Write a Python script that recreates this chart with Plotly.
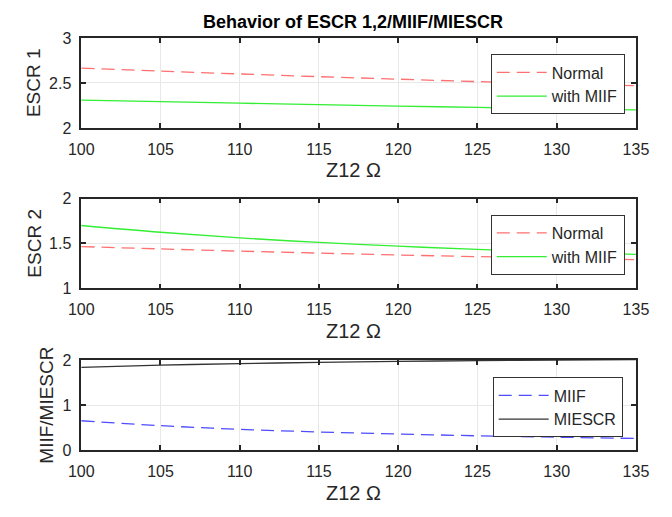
import plotly.graph_objects as go

z12 = [100, 105, 110, 115, 120, 125, 130, 135]

escr1_normal = [2.665, 2.632, 2.600, 2.570, 2.542, 2.515, 2.490, 2.470]
escr1_miif = [2.310, 2.292, 2.275, 2.258, 2.243, 2.228, 2.212, 2.200]

escr2_normal = [1.465, 1.440, 1.415, 1.393, 1.372, 1.354, 1.336, 1.320]
escr2_miif = [1.700, 1.625, 1.562, 1.512, 1.470, 1.434, 1.403, 1.380]

miif = [0.65, 0.54, 0.46, 0.40, 0.355, 0.315, 0.285, 0.255]
miescr = [1.835, 1.885, 1.920, 1.948, 1.970, 1.985, 1.998, 2.008]

x_ticks = [100, 105, 110, 115, 120, 125, 130, 135]

FONT = "Arial, Liberation Sans, sans-serif"
W, H = 672, 517
xdom = [71 / W, 648 / W]
panels = [  # (top px, bottom px)
    (31, 124),
    (197, 290),
    (364, 457),
]
DASH = "13px,7px"

fig = go.Figure()

def add(series, xaxis, yaxis, name, color, dash, legend):
    fig.add_trace(go.Scatter(
        x=z12, y=series, mode="lines", name=name, xaxis=xaxis, yaxis=yaxis,
        line=dict(color=color, width=1.3, dash=dash), legend=legend,
        line_shape="spline"))

add(escr1_normal, "x", "y", "Normal", "#ff7070", DASH, "legend")
add(escr1_miif, "x", "y", "with MIIF", "#33ee33", "solid", "legend")
add(escr2_normal, "x2", "y2", "Normal", "#ff7070", DASH, "legend2")
add(escr2_miif, "x2", "y2", "with MIIF", "#33ee33", "solid", "legend2")
add(miif, "x3", "y3", "MIIF", "#4d4dff", DASH, "legend3")
add(miescr, "x3", "y3", "MIESCR", "#333333", "solid", "legend3")

yranges = [[2, 3], [1, 2], [0, 2]]
yticks = [[2, 2.5, 3], [1, 1.5, 2], [0, 1, 2]]
yticktext = [["2", "2.5", "3"], ["1", "1.5", "2"], ["0", "1", "2"]]
ytitles = ["ESCR 1", "ESCR 2", "MIIF/MIESCR"]
ytitle_x = [22, 22, 34]

axis_common = dict(
    showline=True, linecolor="#262626", linewidth=1.5, mirror="ticks",
    ticks="inside", ticklen=5, tickcolor="#262626", tickwidth=1.5,
    showgrid=True, gridcolor="#e8e8e8", gridwidth=1, zeroline=False,
    tickfont=dict(family=FONT, size=16, color="#262626"),
)

layout = {}
annotations = []
for i, (top, bot) in enumerate(panels):
    sfx = "" if i == 0 else str(i + 1)
    ydom = [1 - bot / H, 1 - top / H]
    layout["xaxis" + sfx] = dict(
        domain=xdom, range=[100, 135], tickvals=x_ticks,
        anchor="y" + sfx, ticklabelstandoff=6, **axis_common)
    layout["yaxis" + sfx] = dict(
        domain=ydom, range=yranges[i], tickvals=yticks[i],
        ticktext=yticktext[i], anchor="x" + sfx, ticklabelstandoff=5,
        **axis_common)
    # x title
    annotations.append(dict(
        text="Z12 Ω", x=354 / W, xref="paper",
        y=1 - (bot + 44) / H, yref="paper", showarrow=False,
        xanchor="center", yanchor="middle",
        font=dict(family=FONT, size=20, color="#262626")))
    # y title
    annotations.append(dict(
        text=ytitles[i], x=ytitle_x[i] / W, xref="paper",
        y=(ydom[0] + ydom[1]) / 2, yref="paper", showarrow=False,
        textangle=-90, xanchor="center", yanchor="middle",
        font=dict(family=FONT, size=19, color="#262626")))

annotations.append(dict(
    text="<b>Behavior of ESCR 1,2/MIIF/MIESCR</b>", x=354 / W,
    xref="paper", y=1 - 14 / H, yref="paper", showarrow=False,
    xanchor="center", yanchor="middle",
    font=dict(family=FONT, size=18, color="#000000")))

legend_common = dict(
    bgcolor="white", bordercolor="#333333", borderwidth=1,
    font=dict(family=FONT, size=16, color="#262626"),
    xanchor="left", yanchor="top", tracegroupgap=0, itemwidth=50,
)
legend_pos = [(497, 48), (497, 214), (499, 382)]
for i, (lx, ly) in enumerate(legend_pos):
    key = "legend" if i == 0 else "legend" + str(i + 1)
    layout[key] = dict(x=lx / W, y=1 - ly / H, **legend_common)

fig.update_layout(
    width=W, height=H, margin=dict(l=0, r=0, t=0, b=0),
    paper_bgcolor="white", plot_bgcolor="white",
    showlegend=True, annotations=annotations, **layout)

fig.write_html("out.html")
